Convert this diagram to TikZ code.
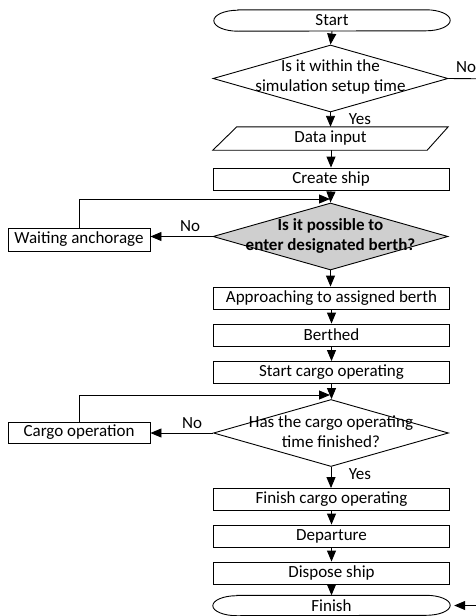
\documentclass[tikz,border=0pt]{standalone}
\usepackage{fontspec}
\setmainfont{Carlito}
\usetikzlibrary{arrows.meta,shapes.geometric}
\definecolor{dgray}{HTML}{CFCFCF}
\tikzset{
  ln/.style={line width=0.9pt},
  txt/.style={font=\fontsize{17}{20}\selectfont, inner sep=0pt},
  box/.style={ln, draw, txt, minimum width=236pt, minimum height=22pt},
  ghost/.style={txt, minimum width=236pt, minimum height=21pt},
  dia/.style={ln, draw, shape=diamond, inner sep=0pt, minimum width=235pt, minimum height=67pt},
  arr/.style={ln, -{Triangle[width=9pt,length=11pt]}},
  lbl/.style={txt}
}
\begin{document}
\begin{tikzpicture}[x=1pt,y=-1pt]
\useasboundingbox (0,0) rectangle (475,616);
% Start oval
\node[ghost] (st) at (332,20.5) {Start};
\draw[ln] ([xshift=24pt]st.north west) -- ([xshift=-24pt]st.north east)
  arc[start angle=90,end angle=-90,x radius=24pt,y radius=10.5pt]
  -- ([xshift=24pt]st.south west)
  arc[start angle=270,end angle=90,x radius=24pt,y radius=10.5pt] -- cycle;
% Decision 1
\node[dia] (d1) at (330.5,78.5) {};
\node[txt,align=center] (d1t) at (330.5,77) {Is it within the\\simulation setup time};
% Data input
\node[txt, minimum width=235pt, minimum height=23pt] (din) at (330.5,138.5) {Data input};
\draw[ln] ([xshift=24pt]din.north west) -- (din.north east) -- ([xshift=-21pt]din.south east) -- (din.south west) -- cycle;
% Create ship
\node[box] (cs) at (331,179) {Create ship};
% Decision 2
\node[dia, fill=dgray] (d2) at (330.5,236.5) {};
\node[txt,align=center,font=\fontsize{17}{20}\selectfont\bfseries] (d2t) at (330.5,236) {Is it possible to\\enter designated berth?};
\node[box, minimum width=142pt, minimum height=23pt] (wa) at (79,239.5) {Waiting anchorage};
\coordinate (j2) at (330,199);
% Sequence
\node[box] (app) at (331.5,298) {Approaching to assigned berth};
\node[box] (ber) at (331.5,335) {Berthed};
\node[box] (sco) at (331.5,372.5) {Start cargo operating};
\coordinate (j3) at (330,395);
% Decision 3
\node[dia] (d3) at (331,433) {};
\node[txt,align=center] (d3t) at (331,432) {Has the cargo operating\\time finished?};
\node[box, minimum width=142pt, minimum height=21pt] (co) at (79,432.5) {Cargo operation};
\node[box] (fco) at (331.5,499.5) {Finish cargo operating};
\node[box] (dep) at (331.5,536) {Departure};
\node[box] (dis) at (331.5,573) {Dispose ship};
% Finish oval
\node[ghost, minimum width=237pt, minimum height=20pt] (fin) at (331.5,605.5) {Finish};
\draw[ln] ([xshift=24pt]fin.north west) -- ([xshift=-24pt]fin.north east)
  arc[start angle=90,end angle=-90,x radius=24pt,y radius=10pt]
  -- ([xshift=24pt]fin.south west)
  arc[start angle=270,end angle=90,x radius=24pt,y radius=10pt] -- cycle;
\coordinate (rt) at (505,79);
% Connectors
\draw[arr] (st.south) -- (d1.north);
\draw[arr] (d1.south) -- (din.north -| d1.south);
\draw[arr] (din.south -| cs.north) -- (cs.north);
\draw[arr] (cs.south) -- (d2.north);
\draw[arr] (d2.west) -- (d2.west -| wa.east);
\draw[arr] (wa.north) |- (j2);
\draw[arr] (d2.south) -- (d2.south |- app.north);
\draw[arr] (app.south) -- (ber.north);
\draw[arr] (ber.south) -- (sco.north);
\draw[arr] (sco.south) -- (sco.south |- d3.north);
\draw[arr] (d3.west) -- (d3.west -| co.east);
\draw[arr] (co.north) |- (j3);
\draw[arr] (d3.south) -- (d3.south |- fco.north);
\draw[arr] (fco.south) -- (dep.north);
\draw[arr] (dep.south) -- (dis.north);
\draw[arr] (dis.south) -- (fin.north);
\draw[arr, shorten >=4pt] (d1.east) -- (rt) |- (fin.east);
% Labels
\node[lbl] (no1) at (466,67.5) {No};
\node[lbl] (yes1) at (360,119.5) {Yes};
\node[lbl] (no2) at (190,226) {No};
\node[lbl] (no3) at (192,423) {No};
\node[lbl] (yes3) at (360,474.5) {Yes};
\end{tikzpicture}
\end{document}
